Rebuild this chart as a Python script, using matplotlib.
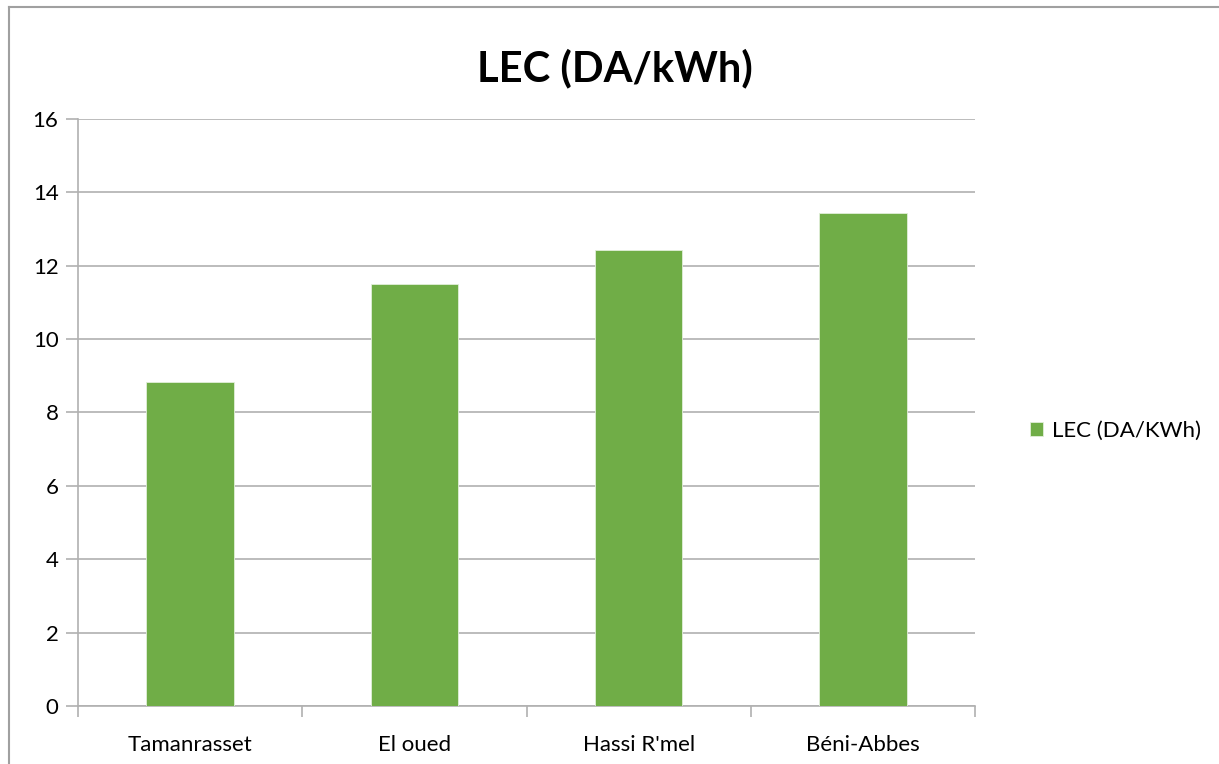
import matplotlib.pyplot as plt
from matplotlib.lines import Line2D

sites = ["Tamanrasset", "El oued", "Hassi R'mel", "Béni-Abbes"]
lec = [8.84, 11.49, 12.42, 13.44]
yticks = [0, 2, 4, 6, 8, 10, 12, 14, 16]

plt.rcParams['font.family'] = ['Lato', 'DejaVu Sans']

W, H = 1219, 764
fig = plt.figure(figsize=(W / 100, H / 100), dpi=100)
ax = fig.add_axes([78 / W, 1 - 706 / H, (975 - 78) / W, (706 - 119) / H])

grid_col = '#b0b0b0'
x = list(range(len(sites)))
ax.bar(x, lec, width=0.39, color='#70ad47', edgecolor='#e2efda', linewidth=0.6,
       label='LEC (DA/KWh)', zorder=3)

ax.set_xlim(-0.5, len(sites) - 0.5)
ax.set_ylim(0, 16)
ax.set_yticks(yticks)
ax.set_yticklabels([str(v) for v in yticks], fontsize=16)
ax.grid(axis='y', color=grid_col, linewidth=1.2, zorder=0)

# category labels centered, boundary ticks between them
ax.set_xticks(x)
ax.set_xticklabels(sites, fontsize=16)
ax.tick_params(axis='x', length=0, pad=21)
ax.set_xticks([i - 0.5 for i in range(len(sites) + 1)], minor=True)
ax.tick_params(axis='x', which='minor', length=8, color=grid_col, width=1.2)
ax.tick_params(axis='y', length=9, color=grid_col, width=1.2, pad=5)

for side in ['top', 'right']:
    ax.spines[side].set_visible(False)
ax.spines['left'].set_color(grid_col)
ax.spines['bottom'].set_color(grid_col)
ax.spines['left'].set_linewidth(1.2)
ax.spines['bottom'].set_linewidth(1.2)

fig.text(615 / W, 1 - 68 / H, 'LEC (DA/kWh)', fontsize=30, fontweight='bold',
         ha='center', va='center')

fig.legend(loc='center left', bbox_to_anchor=(1010 / W, 1 - 431 / H), frameon=False,
           fontsize=16, handlelength=0.6, handleheight=0.6, handletextpad=0.4)

# chart border
fig.add_artist(Line2D([9 / W, 9 / W], [0, 1 - 7 / H], color='#a0a0a0', linewidth=1.5))
fig.add_artist(Line2D([9 / W, 1], [1 - 7 / H, 1 - 7 / H], color='#a0a0a0', linewidth=1.5))

fig.savefig('out.png', dpi=100)
